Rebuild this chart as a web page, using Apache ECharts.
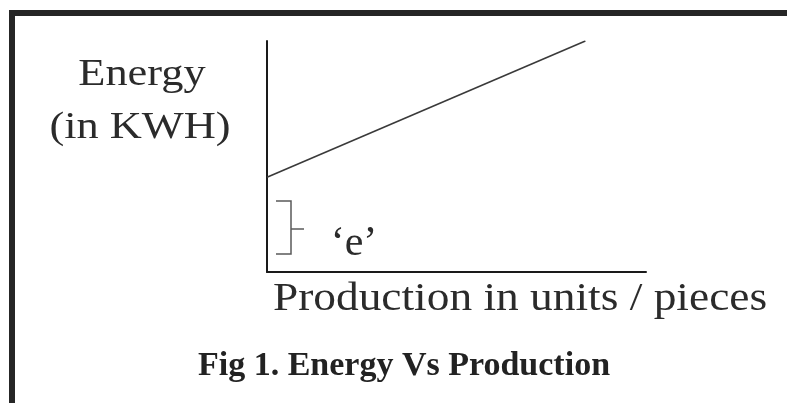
<!DOCTYPE html>
<html>
<head>
<meta charset="utf-8">
<script src="https://cdn.jsdelivr.net/npm/echarts@6/dist/echarts.min.js"></script>
<style>
  html, body { margin: 0; padding: 0; background: #fff; }
  #chart { width: 787px; height: 403px; }
</style>
</head>
<body>
<div id="chart"></div>
<script>
// Energy consumption grows linearly with production, starting from a fixed base load 'e'
const production = [0, 84];
const energy = [41, 100];

const yTitleLines = ['Energy', '(in KWH)'];
const xTitle = 'Production in units / pieces';
const figCaption = 'Fig 1. Energy Vs Production';
const interceptLabel = '\u2018e\u2019';

const serif = '"Liberation Serif", "Times New Roman", serif';
const chart = echarts.init(document.getElementById('chart'));

chart.setOption({
  animation: false,
  backgroundColor: '#ffffff',
  grid: { left: 267, top: 41, right: 141, bottom: 131 },
  xAxis: {
    type: 'value', min: 0, max: 100,
    axisLine: { lineStyle: { color: '#1a1a1a', width: 2 } },
    axisTick: { show: false }, axisLabel: { show: false }, splitLine: { show: false }
  },
  yAxis: {
    type: 'value', min: 0, max: 100,
    axisLine: { show: true, lineStyle: { color: '#1a1a1a', width: 2 } },
    axisTick: { show: false }, axisLabel: { show: false }, splitLine: { show: false }
  },
  series: [{
    type: 'line',
    data: production.map((p, i) => [p, energy[i]]),
    showSymbol: false,
    lineStyle: { color: '#3a3a3a', width: 1.6 }
  }],
  graphic: [
    // frame edges
    { type: 'rect', shape: { x: 9, y: 10, width: 778, height: 6 }, style: { fill: '#262626' } },
    { type: 'rect', shape: { x: 9, y: 10, width: 6, height: 393 }, style: { fill: '#262626' } },
    // y axis title
    { type: 'text', x: 142, y: 75, scaleX: 1.2,
      style: { text: yTitleLines[0], x: 0, y: 0, textAlign: 'center', textVerticalAlign: 'middle',
               font: '37px ' + serif, fill: '#2b2b2b' } },
    { type: 'text', x: 140, y: 128, scaleX: 1.2,
      style: { text: yTitleLines[1], x: 0, y: 0, textAlign: 'center', textVerticalAlign: 'middle',
               font: '37px ' + serif, fill: '#2b2b2b' } },
    // x axis title
    { type: 'text', x: 520, y: 299, scaleX: 1.107,
      style: { text: xTitle, x: 0, y: 0, textAlign: 'center', textVerticalAlign: 'middle',
               font: '41px ' + serif, fill: '#2b2b2b' } },
    // caption
    { type: 'text', x: 404, y: 366,
      style: { text: figCaption, x: 0, y: 0, textAlign: 'center', textVerticalAlign: 'middle',
               font: 'bold 34px ' + serif, fill: '#222' } },
    // base-load bracket and its label
    { type: 'polyline', shape: { points: [[276, 201], [291, 201], [291, 254], [276, 254]] },
      style: { stroke: '#5a5a5a', lineWidth: 1.5, fill: null } },
    { type: 'line', shape: { x1: 291, y1: 229, x2: 304, y2: 229 },
      style: { stroke: '#5a5a5a', lineWidth: 1.5 } },
    { type: 'text', x: 354, y: 244,
      style: { text: interceptLabel, x: 0, y: 0, textAlign: 'center', textVerticalAlign: 'middle',
               font: '42px ' + serif, fill: '#2b2b2b' } }
  ]
});
</script>
</body>
</html>
